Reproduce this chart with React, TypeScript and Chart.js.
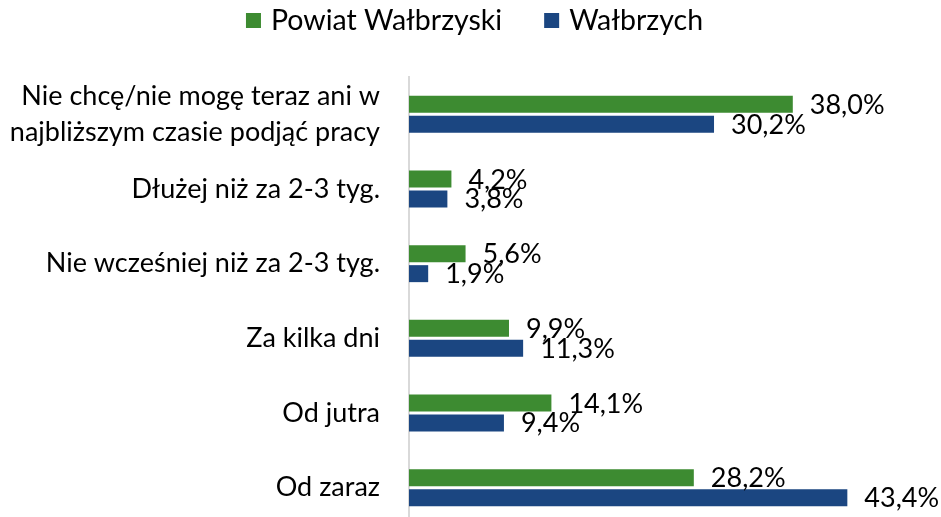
import React, { useEffect, useRef } from "react";
import { Chart, registerables } from "chart.js";

Chart.register(...registerables);

const categories: (string | string[])[] = [
  ["Nie chcę/nie mogę teraz ani w", "najbliższym czasie podjąć pracy"],
  "Dłużej niż za 2-3 tyg.",
  "Nie wcześniej niż za 2-3 tyg.",
  "Za kilka dni",
  "Od jutra",
  "Od zaraz",
];
const seriesNames = ["Powiat Wałbrzyski", "Wałbrzych"];
const powiatValues = [38.0, 4.2, 5.6, 9.9, 14.1, 28.2];
const walbrzychValues = [30.2, 3.8, 1.9, 11.3, 9.4, 43.4];
const colors = ["#3d8b31", "#1b4681"];
const FONT = "Lato, sans-serif";

const fmt = (v: number) => v.toFixed(1).replace(".", ",") + "%";

const labelsPlugin = {
  id: "valueLabels",
  afterDatasetsDraw(chart: any) {
    const ctx = chart.ctx;
    ctx.save();
    ctx.font = `27px ${FONT}`;
    ctx.fillStyle = "#000";
    ctx.textAlign = "left";
    ctx.textBaseline = "alphabetic";
    chart.data.datasets.forEach((ds: any, di: number) => {
      const meta = chart.getDatasetMeta(di);
      meta.data.forEach((el: any, i: number) => {
        const v = ds.data[i] as number;
        ctx.fillText(fmt(v), el.x + 17, el.y + 9.5);
      });
    });
    ctx.restore();
  },
};

const legendPlugin = {
  id: "customLegend",
  afterDraw(chart: any) {
    const ctx = chart.ctx;
    ctx.save();
    ctx.font = `28.5px ${FONT}`;
    const box = 15;
    const gapText = 10;
    const gapItem = 42;
    const widths = seriesNames.map((n) => ctx.measureText(n).width);
    const total =
      widths.reduce((a, b) => a + b, 0) + seriesNames.length * (box + gapText) + gapItem * (seriesNames.length - 1);
    let x = chart.width / 2 - total / 2 + 4;
    const boxTop = 13;
    seriesNames.forEach((n, i) => {
      ctx.fillStyle = colors[i];
      ctx.fillRect(x, boxTop, box, box);
      x += box + gapText;
      ctx.fillStyle = "#000";
      ctx.textAlign = "left";
      ctx.textBaseline = "alphabetic";
      ctx.fillText(n, x, 30);
      x += widths[i] + gapItem;
    });
    ctx.restore();
  },
};

export default function App() {
  const ref = useRef<HTMLCanvasElement | null>(null);
  useEffect(() => {
    if (!ref.current) return;
    const chart = new Chart(ref.current, {
      type: "bar",
      data: {
        labels: categories as any,
        datasets: [
          {
            label: seriesNames[0],
            data: powiatValues,
            backgroundColor: colors[0],
            categoryPercentage: 0.535,
            barPercentage: 0.85,
          },
          {
            label: seriesNames[1],
            data: walbrzychValues,
            backgroundColor: colors[1],
            categoryPercentage: 0.535,
            barPercentage: 0.85,
          },
        ],
      },
      options: {
        indexAxis: "y",
        animation: false,
        responsive: false,
        maintainAspectRatio: false,
        devicePixelRatio: 1,
        layout: { padding: { top: 77, right: 27, bottom: 0, left: 0 } },
        plugins: {
          legend: { display: false },
          tooltip: { enabled: false },
        },
        scales: {
          x: {
            display: false,
            min: 0,
            max: 50,
          },
          y: {
            type: "category",
            grid: { display: false, drawTicks: false },
            border: { display: true, color: "#d9d9d9", width: 2 },
            ticks: {
              autoSkip: false,
              padding: 29,
              color: "#000",
              font: { family: FONT, size: 27, lineHeight: 1.3 },
            },
            afterFit(scale: any) {
              scale.width = 409;
              scale.paddingTop = 0;
              scale.paddingBottom = 0;
            },
          },
        },
      },
      plugins: [labelsPlugin, legendPlugin],
    });
    return () => chart.destroy();
  }, []);

  return (
    <div
      style={{
        position: "fixed",
        left: 0,
        top: 0,
        width: 941,
        height: 517,
        overflow: "hidden",
        background: "#fff",
      }}
    >
      <canvas ref={ref} width={941} height={525} style={{ display: "block", width: 941, height: 525 }} />
    </div>
  );
}
